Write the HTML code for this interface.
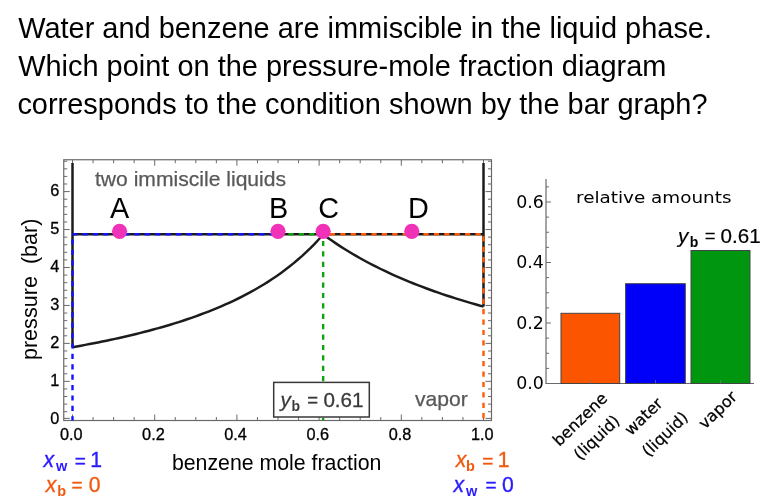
<!DOCTYPE html>
<html><head><meta charset="utf-8"><title>Water and benzene</title>
<style>
html,body{margin:0;padding:0;background:#fff;}
body{width:768px;height:502px;overflow:hidden;position:relative;font-family:"Liberation Sans",Arial,sans-serif;}
svg{position:absolute;left:0;top:0;}
text{font-family:"Liberation Sans",Arial,sans-serif;}
.dv{font-family:"DejaVu Sans","Liberation Sans",sans-serif;}
</style></head><body>
<svg width="768" height="502" viewBox="0 0 768 502">

<g font-size="28.95" fill="#000">
<text x="18.2" y="37.5">Water and benzene are immiscible in the liquid phase.</text>
<text x="18.2" y="75.6">Which point on the pressure-mole fraction diagram</text>
<text x="17.4" y="113.5">corresponds to the condition shown by the bar graph?</text>
</g>
<rect x="63.75" y="159.75" width="427.75" height="260.75" fill="none" stroke="#6a6a6a" stroke-width="1.2"/>
<path d="M63.75 418.40h6 M491.5 418.40h-6 M63.75 411.71h3.5 M491.5 411.71h-3.5 M63.75 404.12h3.5 M491.5 404.12h-3.5 M63.75 396.53h3.5 M491.5 396.53h-3.5 M63.75 388.94h3.5 M491.5 388.94h-3.5 M63.75 381.35h6 M491.5 381.35h-6 M63.75 373.76h3.5 M491.5 373.76h-3.5 M63.75 366.17h3.5 M491.5 366.17h-3.5 M63.75 358.58h3.5 M491.5 358.58h-3.5 M63.75 350.99h3.5 M491.5 350.99h-3.5 M63.75 343.40h6 M491.5 343.40h-6 M63.75 335.81h3.5 M491.5 335.81h-3.5 M63.75 328.22h3.5 M491.5 328.22h-3.5 M63.75 320.63h3.5 M491.5 320.63h-3.5 M63.75 313.04h3.5 M491.5 313.04h-3.5 M63.75 305.45h6 M491.5 305.45h-6 M63.75 297.86h3.5 M491.5 297.86h-3.5 M63.75 290.27h3.5 M491.5 290.27h-3.5 M63.75 282.68h3.5 M491.5 282.68h-3.5 M63.75 275.09h3.5 M491.5 275.09h-3.5 M63.75 267.50h6 M491.5 267.50h-6 M63.75 259.91h3.5 M491.5 259.91h-3.5 M63.75 252.32h3.5 M491.5 252.32h-3.5 M63.75 244.73h3.5 M491.5 244.73h-3.5 M63.75 237.14h3.5 M491.5 237.14h-3.5 M63.75 229.55h6 M491.5 229.55h-6 M63.75 221.96h3.5 M491.5 221.96h-3.5 M63.75 214.37h3.5 M491.5 214.37h-3.5 M63.75 206.78h3.5 M491.5 206.78h-3.5 M63.75 199.19h3.5 M491.5 199.19h-3.5 M63.75 191.60h6 M491.5 191.60h-6 M63.75 184.01h3.5 M491.5 184.01h-3.5 M63.75 176.42h3.5 M491.5 176.42h-3.5 M63.75 168.83h3.5 M491.5 168.83h-3.5 M63.75 161.24h3.5 M491.5 161.24h-3.5 M72.50 420.5v-6 M72.50 159.75v6 M93.05 420.5v-3.5 M93.05 159.75v3.5 M113.60 420.5v-3.5 M113.60 159.75v3.5 M134.15 420.5v-3.5 M134.15 159.75v3.5 M154.70 420.5v-6 M154.70 159.75v6 M175.25 420.5v-3.5 M175.25 159.75v3.5 M195.80 420.5v-3.5 M195.80 159.75v3.5 M216.35 420.5v-3.5 M216.35 159.75v3.5 M236.90 420.5v-6 M236.90 159.75v6 M257.45 420.5v-3.5 M257.45 159.75v3.5 M278.00 420.5v-3.5 M278.00 159.75v3.5 M298.55 420.5v-3.5 M298.55 159.75v3.5 M319.10 420.5v-6 M319.10 159.75v6 M339.65 420.5v-3.5 M339.65 159.75v3.5 M360.20 420.5v-3.5 M360.20 159.75v3.5 M380.75 420.5v-3.5 M380.75 159.75v3.5 M401.30 420.5v-6 M401.30 159.75v6 M421.85 420.5v-3.5 M421.85 159.75v3.5 M442.40 420.5v-3.5 M442.40 159.75v3.5 M462.95 420.5v-3.5 M462.95 159.75v3.5 M483.50 420.5v-6 M483.50 159.75v6" stroke="#6a6a6a" stroke-width="1" fill="none"/>
<g font-size="16.3" fill="#000" stroke="#000" stroke-width="0.3" text-anchor="end">
<text x="59.3" y="424.0">0</text>
<text x="59.3" y="386.1">1</text>
<text x="59.3" y="348.1">2</text>
<text x="59.3" y="310.1">3</text>
<text x="59.3" y="272.2">4</text>
<text x="59.3" y="234.2">5</text>
<text x="59.3" y="196.3">6</text>
</g>
<g font-size="16.3" fill="#000" stroke="#000" stroke-width="0.3" text-anchor="middle">
<text x="71.2" y="439.5">0.0</text>
<text x="153.4" y="439.5">0.2</text>
<text x="235.6" y="439.5">0.4</text>
<text x="317.8" y="439.5">0.6</text>
<text x="400.0" y="439.5">0.8</text>
<text x="482.2" y="439.5">1.0</text>
</g>
<polyline points="72.50,347.19 76.75,346.44 81.00,345.67 85.24,344.89 89.49,344.09 93.74,343.27 97.99,342.43 102.24,341.57 106.49,340.69 110.73,339.80 114.98,338.88 119.23,337.94 123.48,336.98 127.73,336.00 131.98,335.00 136.22,333.96 140.47,332.91 144.72,331.82 148.97,330.71 153.22,329.57 157.47,328.40 161.71,327.20 165.96,325.97 170.21,324.71 174.46,323.41 178.71,322.07 182.96,320.69 187.20,319.28 191.45,317.83 195.70,316.33 199.95,314.79 204.20,313.20 208.45,311.56 212.69,309.87 216.94,308.12 221.19,306.32 225.44,304.46 229.69,302.54 233.94,300.55 238.18,298.50 242.43,296.37 246.68,294.16 250.93,291.88 255.18,289.50 259.43,287.04 263.67,284.49 267.92,281.83 272.17,279.07 276.42,276.19 280.67,273.19 284.92,270.07 289.16,266.81 293.41,263.40 297.66,259.83 301.91,256.10 306.16,252.19 310.41,248.09 314.65,243.78 318.90,239.25 323.15,234.48" fill="none" stroke="#1c1c1c" stroke-width="2.5" stroke-linejoin="round"/>
<polyline points="323.15,234.48 327.26,237.47 331.37,240.35 335.49,243.15 339.60,245.86 343.71,248.49 347.82,251.04 351.93,253.52 356.04,255.92 360.15,258.26 364.27,260.53 368.38,262.73 372.49,264.88 376.60,266.97 380.71,269.00 384.82,270.98 388.94,272.91 393.05,274.78 397.16,276.61 401.27,278.40 405.38,280.14 409.49,281.84 413.60,283.49 417.72,285.11 421.83,286.69 425.94,288.23 430.05,289.74 434.16,291.21 438.27,292.65 442.38,294.06 446.50,295.44 450.61,296.78 454.72,298.10 458.83,299.39 462.94,300.65 467.05,301.89 471.17,303.10 475.28,304.29 479.39,305.45 483.50,306.59" fill="none" stroke="#1c1c1c" stroke-width="2.5" stroke-linejoin="round"/>
<path d="M72.50 163V347.19 M483.50 163V306.59 M72.50 234.28H483.50" stroke="#1c1c1c" stroke-width="2.5" fill="none"/>
<path d="M72.50 234.28H278.00" stroke="#1212ff" stroke-width="2.4" stroke-dasharray="5.2 5.2" stroke-dashoffset="0.5" fill="none"/>
<path d="M72.50 234.28V420.5" stroke="#1212ff" stroke-width="2.4" stroke-dasharray="5.2 5.2" stroke-dashoffset="5.3" fill="none"/>
<path d="M278.00 234.28H323.15" stroke="#12a012" stroke-width="2.4" stroke-dasharray="5.2 5.2" stroke-dashoffset="0" fill="none"/>
<path d="M323.15 234.28V420.5" stroke="#12a012" stroke-width="2.4" stroke-dasharray="5.2 5.2" stroke-dashoffset="3.8" fill="none"/>
<path d="M323.15 234.28H483.50" stroke="#ff5a08" stroke-width="2.4" stroke-dasharray="5.2 5.2" stroke-dashoffset="3.7" fill="none"/>
<path d="M483.50 234.28V420.5" stroke="#ff5a08" stroke-width="2.4" stroke-dasharray="5.2 5.2" stroke-dashoffset="8.4" fill="none"/>
<circle cx="119.56" cy="231.3" r="7.6" fill="#f032b8"/>
<text x="119.56" y="218" font-size="28.8" text-anchor="middle" fill="#000">A</text>
<circle cx="278.00" cy="231.3" r="7.6" fill="#f032b8"/>
<text x="278.50" y="218" font-size="28.8" text-anchor="middle" fill="#000">B</text>
<circle cx="323.15" cy="231.3" r="7.6" fill="#f032b8"/>
<text x="328.65" y="218" font-size="28.8" text-anchor="middle" fill="#000">C</text>
<circle cx="411.78" cy="231.3" r="7.6" fill="#f032b8"/>
<text x="418.28" y="218" font-size="28.8" text-anchor="middle" fill="#000">D</text>
<text x="95" y="186.2" font-size="21.1" fill="#585858" stroke="#585858" stroke-width="0.25">two immiscile liquids</text>
<text x="415" y="406" font-size="21.1" fill="#585858" stroke="#585858" stroke-width="0.25">vapor</text>
<rect x="273.7" y="382.4" width="95.6" height="34.6" fill="#fff" stroke="#383838" stroke-width="1.5"/>
<g fill="#3a3a3a" stroke="#3a3a3a" stroke-width="0.3" font-size="20.6"><text x="280.4" y="406.5" font-style="italic">y</text><text x="291.4" y="410.5" font-size="14" font-weight="bold" stroke="none">b</text><text x="307.3" y="406.2" font-size="18.5">=</text><text x="323.4" y="406.5">0.61</text></g>
<text x="276.7" y="469.7" font-size="21.3" text-anchor="middle" fill="#000">benzene mole fraction</text>
<text transform="translate(36.6,289.3) rotate(-90)" font-size="21.6" text-anchor="middle" fill="#000">pressure&#160;&#160;(bar)</text>
<g fill="#2a1aff" stroke="#2a1aff" stroke-width="0.35" font-size="21.2"><text x="43.4" y="467.3" font-style="italic">x</text><text x="55.9" y="471.3" font-size="14.5" font-weight="bold" stroke="none">w</text><text x="74.7" y="467.0" font-size="19">=</text><text x="90.2" y="467.3">1</text></g>
<g fill="#f05a10" stroke="#f05a10" stroke-width="0.35" font-size="21.2"><text x="45.8" y="491.6" font-style="italic">x</text><text x="57.2" y="495.6" font-size="14.5" font-weight="bold" stroke="none">b</text><text x="71.6" y="491.3" font-size="19">=</text><text x="88.75" y="491.6">0</text></g>
<g fill="#f05a10" stroke="#f05a10" stroke-width="0.35" font-size="21.2"><text x="455.8" y="467.3" font-style="italic">x</text><text x="465.9" y="471.3" font-size="14.5" font-weight="bold" stroke="none">b</text><text x="482.3" y="467.0" font-size="19">=</text><text x="497.8" y="467.3">1</text></g>
<g fill="#2a1aff" stroke="#2a1aff" stroke-width="0.35" font-size="21.2"><text x="453.4" y="491.6" font-style="italic">x</text><text x="465.9" y="495.6" font-size="14.5" font-weight="bold" stroke="none">w</text><text x="485.5" y="491.3" font-size="19">=</text><text x="501.9" y="491.6">0</text></g>
<path d="M546 179V383.5H754" stroke="#6a6a6a" stroke-width="1.2" fill="none"/>
<path d="M546 383.50h5 M546 368.38h3 M546 353.25h3 M546 338.12h3 M546 323.00h5 M546 307.88h3 M546 292.75h3 M546 277.62h3 M546 262.50h5 M546 247.38h3 M546 232.25h3 M546 217.12h3 M546 202.00h5 M546 186.88h3" stroke="#6a6a6a" stroke-width="1" fill="none"/>
<g class="dv" font-size="17.4" fill="#000" text-anchor="end">
<text class="dv" x="543.8" y="389.3">0.0</text>
<text class="dv" x="543.8" y="328.8">0.2</text>
<text class="dv" x="543.8" y="268.3">0.4</text>
<text class="dv" x="543.8" y="207.8">0.6</text>
</g>
<rect x="561" y="313.3" width="58.7" height="70.2" fill="#fc5500" stroke="#444" stroke-width="1"/>
<rect x="625.6" y="283.7" width="59.7" height="99.8" fill="#0000fa" stroke="#444" stroke-width="1"/>
<rect x="691" y="250.5" width="59.0" height="133.0" fill="#009610" stroke="#444" stroke-width="1"/>
<path d="M590.5 383.5v-3.5" stroke="#777" stroke-opacity="0.7" stroke-width="1"/>
<path d="M655.5 383.5v-3.5" stroke="#777" stroke-opacity="0.7" stroke-width="1"/>
<path d="M720.5 383.5v-3.5" stroke="#777" stroke-opacity="0.7" stroke-width="1"/>
<text class="dv" x="576" y="203" font-size="16.6" textLength="155.5" lengthAdjust="spacingAndGlyphs" fill="#000">relative amounts</text>
<g fill="#000" stroke="#000" stroke-width="0.2" font-size="20.6"><text x="678" y="242.5" font-style="italic">y</text><text x="689.7" y="246.5" font-size="14" font-weight="bold" stroke="none">b</text><text x="704.8" y="242.2" font-size="18.5">=</text><text x="720.6" y="242.5">0.61</text></g>
<text class="dv" transform="translate(608.4,399.5) rotate(-44)" font-size="16" text-anchor="end" fill="#000" stroke="#000" stroke-width="0.25">benzene</text>
<text class="dv" transform="translate(620.7,421.8) rotate(-44)" font-size="16" text-anchor="end" fill="#000" stroke="#000" stroke-width="0.25">(liquid)</text>
<text class="dv" transform="translate(663.7,404.6) rotate(-44)" font-size="16" text-anchor="end" fill="#000" stroke="#000" stroke-width="0.25">water</text>
<text class="dv" transform="translate(689,418.5) rotate(-44)" font-size="16" text-anchor="end" fill="#000" stroke="#000" stroke-width="0.25">(liquid)</text>
<text class="dv" transform="translate(738,398) rotate(-44)" font-size="16" text-anchor="end" fill="#000" stroke="#000" stroke-width="0.25">vapor</text>
</svg></body></html>
